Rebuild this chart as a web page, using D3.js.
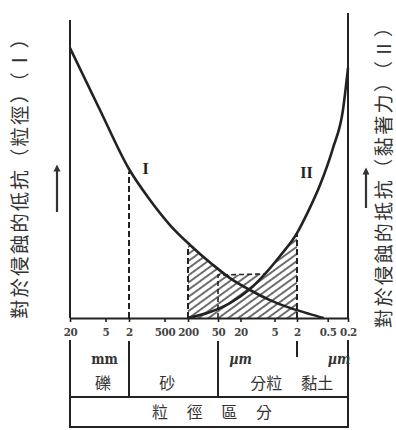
<!DOCTYPE html>
<html><head><meta charset="utf-8">
<script src="https://cdn.jsdelivr.net/npm/d3@7/dist/d3.min.js"></script>
<style>
html,body{margin:0;padding:0;background:#fff;}
svg{display:block;}
</style></head>
<body>
<script>
// ---- data (particle size in µm, resistance in relative units 0..100) ----
const curveISize = [20000, 6210, 2000, 881, 404, 182, 62.9, 30.7, 13.6, 6.01, 2.66, 1.11, 0.6];
const curveIVal  = [90.6, 69.8, 50.0, 39.6, 31.2, 24.5, 17.8, 13.4, 9.4, 6.0, 3.4, 1.3, 0];
const curveIISize = [200, 72.3, 30.7, 13.6, 7.36, 4.0, 2, 1.22, 0.708, 0.394, 0.251, 0.2];
const curveIIVal  = [0, 2.0, 5.0, 9.7, 14.8, 20.8, 28.5, 35.6, 44.6, 57.0, 69.8, 83.9];
const dropSize = [2000, 200, 2];
const dropVal  = [49.2, 24.0, 28.5];
const innerSize = [50, 50, 7.36];
const innerVal  = [0, 14.4, 14.8];
const hatchRange = [200, 2];
const tickValues = [20000, 5000, 2000, 500, 200, 50, 20, 5, 2, 0.5, 0.2];
const tickLabels = ["20", "5", "2", "500", "200", "50", "20", "5", "2", "0.5", "0.2"];
const dividerSize = [2000, 50, 2];
const unitLabels = [{s: 5200, t: "mm"}, {s: 20, t: "µm"}, {s: 0.3, t: "µm"}];
const categories = [{s: 5500, t: "礫"}, {s: 450, t: "砂"}, {s: 7, t: "分粒"}, {s: 0.8, t: "黏土"}];
const footer = ["粒", "徑", "區", "分"];
const leftTitle = "對於侵蝕的低抗（粒徑）（Ⅰ）";
const rightTitle = "對於侵蝕的抵抗（黏著力）（Ⅱ）";

const W = 396, H = 430;
const svg = d3.select("body").append("svg").attr("width", W).attr("height", H);

const x = d3.scaleLog()
  .domain([20000, 2000, 200, 50, 2, 0.2])
  .range([70, 129, 188, 218, 297, 348]);
const y = d3.scaleLinear().domain([0, 100]).range([318, 20]);

const ink = "#222";

// hatch pattern
const defs = svg.append("defs");
const pat = defs.append("pattern").attr("id", "hatch")
  .attr("patternUnits", "userSpaceOnUse").attr("width", 10).attr("height", 5.8)
  .attr("patternTransform", "rotate(-36)");
pat.append("line").attr("x1", -1).attr("x2", 11).attr("y1", 2.9).attr("y2", 2.9)
  .attr("stroke", "#333").attr("stroke-width", 1.4);

const ptsI = curveISize.map((s, i) => [s, curveIVal[i]]);
const ptsII = curveIISize.map((s, i) => [s, curveIIVal[i]]);
const ptsInner = innerSize.map((s, i) => [s, innerVal[i]]);

const line = d3.line().x(d => x(d[0])).y(d => y(d[1])).curve(d3.curveMonotoneX);
const area = d3.area().x(d => x(d[0])).y0(y(0)).y1(d => y(d[1])).curve(d3.curveMonotoneX);
const areaLin = d3.area().x(d => x(d[0])).y0(y(0)).y1(d => y(d[1]));

const clip = defs.append("clipPath").attr("id", "under");
clip.append("path").attr("d", area(ptsI));
clip.append("path").attr("d", area(ptsII));
clip.append("path").attr("d", areaLin(ptsInner));

svg.append("rect")
  .attr("x", x(hatchRange[0])).attr("width", x(hatchRange[1]) - x(hatchRange[0]))
  .attr("y", y(100)).attr("height", y(0) - y(100))
  .attr("fill", "url(#hatch)").attr("clip-path", "url(#under)");

// dashed verticals
svg.selectAll(".drop").data(dropSize).join("line")
  .attr("x1", d => x(d)).attr("x2", d => x(d))
  .attr("y1", y(0)).attr("y2", (d, i) => y(dropVal[i]))
  .attr("stroke", ink).attr("stroke-width", 2).attr("stroke-dasharray", "6,3");

// inner dashed polyline
svg.append("path").attr("d", d3.line().x(d => x(d[0])).y(d => y(d[1]))(ptsInner))
  .attr("fill", "none").attr("stroke", ink).attr("stroke-width", 1.6).attr("stroke-dasharray", "5,3");

// curves
svg.append("path").attr("d", line(ptsI)).attr("fill", "none").attr("stroke", ink).attr("stroke-width", 2.6);
svg.append("path").attr("d", line(ptsII)).attr("fill", "none").attr("stroke", ink).attr("stroke-width", 2.6);

// curve labels
svg.append("text").attr("x", x(1050)).attr("y", 174).text("I")
  .attr("font-family", "Liberation Serif").attr("font-weight", "bold").attr("font-size", 16)
  .attr("text-anchor", "middle").attr("fill", ink);
svg.append("text").attr("x", x(1.3)).attr("y", 178).text("II")
  .attr("font-family", "Liberation Serif").attr("font-weight", "bold").attr("font-size", 16)
  .attr("text-anchor", "middle").attr("fill", ink);

// frame lines
const frame = [
  [x(20000), 20, x(20000), y(0)], [x(20000), 340, x(20000), 428],
  [x(0.2), 13, x(0.2), y(0)], [x(0.2), 340, x(0.2), 428],
  [x(20000), 397, x(0.2), 397], [x(20000), 427, x(0.2), 427]
];
svg.selectAll(".frame").data(frame).join("line")
  .attr("x1", d => d[0]).attr("y1", d => d[1]).attr("x2", d => d[2]).attr("y2", d => d[3])
  .attr("stroke", ink).attr("stroke-width", 2);

// dividers
svg.selectAll(".div").data(dividerSize).join("line")
  .attr("x1", d => x(d)).attr("x2", d => x(d))
  .attr("y1", 341).attr("y2", (d, i) => i === 2 ? 357 : 397)
  .attr("stroke", ink).attr("stroke-width", 2);

// axis
const axis = d3.axisBottom(x).tickValues(tickValues)
  .tickFormat((d, i) => tickLabels[i]).tickSize(4).tickSizeOuter(0).tickPadding(6);
const gA = svg.append("g").attr("transform", `translate(0,${y(0)})`).call(axis);
gA.select(".domain").attr("stroke", ink).attr("stroke-width", 2);
gA.selectAll(".tick line").attr("stroke", ink).attr("stroke-width", 1.6);
gA.selectAll(".tick text").attr("font-family", "DejaVu Serif Condensed").attr("font-weight", "bold")
  .attr("font-size", 11.5).attr("letter-spacing", -0.4).attr("fill", "#444");

// units
svg.selectAll(".unit").data(unitLabels).join("text")
  .attr("x", d => x(d.s)).attr("y", 364).text(d => d.t)
  .attr("text-anchor", "middle").attr("font-family", "DejaVu Serif Condensed")
  .attr("font-weight", "bold").attr("font-style", (d, i) => i ? "italic" : "normal")
  .attr("font-size", 14).attr("fill", "#333");

// categories
svg.selectAll(".cat").data(categories).join("text")
  .attr("x", d => x(d.s)).attr("y", 389).text(d => d.t)
  .attr("text-anchor", "middle").attr("font-family", "Noto Sans CJK TC")
  .attr("font-size", 16).attr("fill", "#333");

// footer
const footX = d3.scalePoint().domain(footer).range([160, 264]);
svg.selectAll(".foot").data(footer).join("text")
  .attr("x", d => footX(d)).attr("y", 418).text(d => d)
  .attr("text-anchor", "middle").attr("font-family", "Noto Sans CJK TC")
  .attr("font-size", 16).attr("fill", "#333");

// side titles
svg.append("text").attr("transform", "translate(18,174) rotate(-90)")
  .attr("text-anchor", "middle").attr("dominant-baseline", "central")
  .attr("font-family", "Noto Sans CJK TC").attr("font-size", 19.5).attr("fill", "#333")
  .attr("textLength", 290).attr("lengthAdjust", "spacing")
  .text(leftTitle);
svg.append("text").attr("transform", "translate(382,173) rotate(-90)")
  .attr("text-anchor", "middle").attr("dominant-baseline", "central")
  .attr("font-family", "Noto Sans CJK TC").attr("font-size", 19).attr("fill", "#333")
  .attr("textLength", 310).attr("lengthAdjust", "spacing")
  .text(rightTitle);

// arrows
defs.append("marker").attr("id", "ah").attr("viewBox", "0 0 10 10").attr("refX", 5).attr("refY", 5)
  .attr("markerWidth", 3.2).attr("markerHeight", 3.2).attr("orient", "auto")
  .append("path").attr("d", "M0,0L10,5L0,10z").attr("fill", "#333");
[[57, 212, 164], [366, 208, 167]].forEach(a => {
  svg.append("line").attr("x1", a[0]).attr("x2", a[0]).attr("y1", a[1]).attr("y2", a[2] + 4)
    .attr("stroke", "#333").attr("stroke-width", 2.2).attr("marker-end", "url(#ah)");
});
</script>
</body></html>
